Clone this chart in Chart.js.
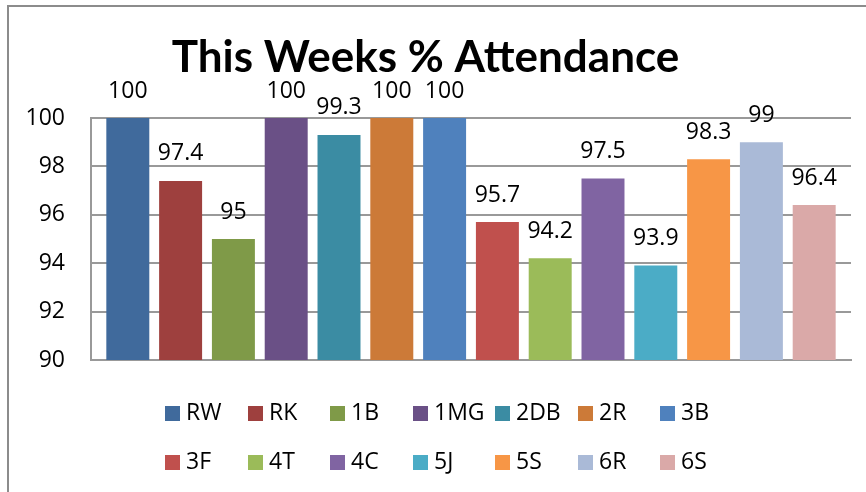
<!DOCTYPE html>
<html>
<head>
<meta charset="utf-8">
<script src="https://cdn.jsdelivr.net/npm/chart.js@4/dist/chart.umd.min.js"></script>
<style>
  html, body { margin: 0; padding: 0; background: #fff; }
  #wrap { width: 866px; height: 492px; }
</style>
</head>
<body>
<div id="wrap"><canvas id="c" width="866" height="492"></canvas></div>
<script>
const chartTitle = 'This Weeks % Attendance';
const classNames = ['RW', 'RK', '1B', '1MG', '2DB', '2R', '3B', '3F', '4T', '4C', '5J', '5S', '6R', '6S'];
const attendance = [100, 97.4, 95, 100, 99.3, 100, 100, 95.7, 94.2, 97.5, 93.9, 98.3, 99, 96.4];
const barColors = ['#406A9C', '#9E403E', '#7F9A48', '#6A5086', '#3B8CA3', '#CC7A38', '#4F81BD', '#C0504D', '#9BBB59', '#8064A2', '#4BACC6', '#F79646', '#AABAD7', '#DAA9A8'];
const yTicks = [90, 92, 94, 96, 98, 100];

const FONT = '"Open Sans"';
const TITLE_FONT = 'Lato';
const SMALL = 23;

const datasets = classNames.map((name, i) => ({
  label: name,
  data: [attendance[i]],
  backgroundColor: barColors[i],
  borderWidth: 0,
  barPercentage: 0.814,
  categoryPercentage: 0.9726
}));

const framePlugin = {
  id: 'frame',
  beforeDraw(chart) {
    const ctx = chart.ctx;
    ctx.save();
    ctx.strokeStyle = '#8c8c8c';
    ctx.lineWidth = 2;
    ctx.strokeRect(8, 6, 1200, 1200);
    ctx.restore();
  }
};

const valueLabels = {
  id: 'valueLabels',
  afterDatasetsDraw(chart) {
    const ctx = chart.ctx;
    ctx.save();
    ctx.font = SMALL + 'px ' + FONT;
    ctx.fillStyle = '#000';
    ctx.textAlign = 'center';
    ctx.textBaseline = 'middle';
    chart.data.datasets.forEach((ds, i) => {
      const meta = chart.getDatasetMeta(i);
      meta.data.forEach((bar, j) => {
        ctx.fillText(String(ds.data[j]), bar.x, bar.y - 27);
      });
    });
    ctx.restore();
  }
};

const gridLegend = {
  id: 'gridLegend',
  afterDraw(chart) {
    const ctx = chart.ctx;
    ctx.save();
    ctx.font = SMALL + 'px ' + FONT;
    ctx.textAlign = 'left';
    ctx.textBaseline = 'middle';
    chart.data.datasets.forEach((ds, i) => {
      const col = i % 7, row = Math.floor(i / 7);
      const x = 165 + col * 82.5;
      const y = 413 + row * 49.5;
      ctx.fillStyle = ds.backgroundColor;
      ctx.fillRect(Math.round(x), Math.round(y - 7.5), 15, 15);
      ctx.fillStyle = '#000';
      ctx.fillText(ds.label, Math.round(x) + 21, y);
    });
    ctx.restore();
  }
};

new Chart(document.getElementById('c'), {
  type: 'bar',
  data: { labels: [''], datasets },
  plugins: [framePlugin, valueLabels, gridLegend],
  options: {
    responsive: false,
    animation: false,
    layout: { padding: { top: 0, left: 0, right: 15, bottom: 132 } },
    plugins: {
      legend: { display: false },
      tooltip: { enabled: false },
      title: {
        display: true,
        text: chartTitle,
        color: '#000',
        font: { family: TITLE_FONT, size: 44, weight: 'bold', lineHeight: 1.2 },
        padding: { top: 31, bottom: 34.2 }
      }
    },
    scales: {
      x: {
        ticks: { display: false },
        grid: { display: false, drawTicks: false },
        border: { display: true, color: '#999', width: 2 },
        afterFit(s) { s.height = 0; }
      },
      y: {
        min: 90,
        max: 100,
        afterBuildTicks(s) { s.ticks = yTicks.map(v => ({ value: v })); },
        ticks: { color: '#000', font: { family: FONT, size: SMALL }, padding: 26 },
        grid: { color: '#999', lineWidth: 2, drawTicks: false },
        border: { display: true, color: '#999', width: 2 },
        afterFit(s) { s.width = 91; }
      }
    }
  }
});
</script>
</body>
</html>
